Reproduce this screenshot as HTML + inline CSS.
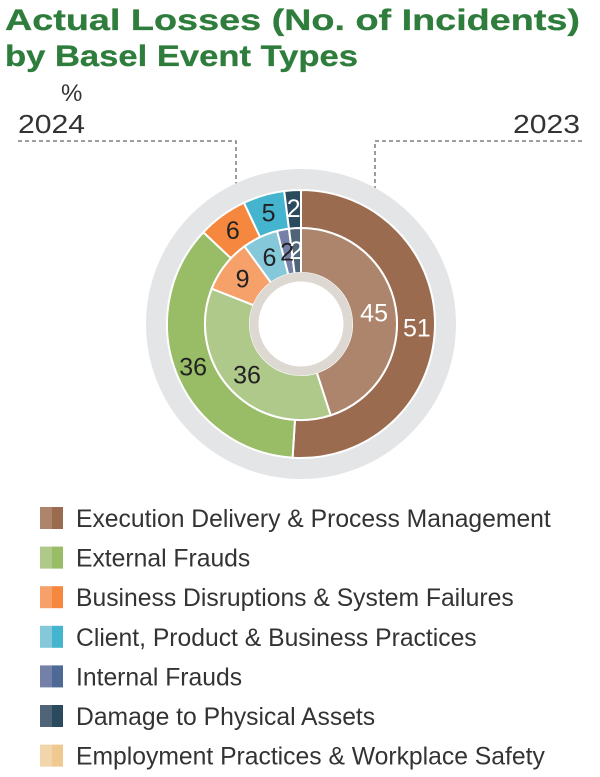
<!DOCTYPE html>
<html><head><meta charset="utf-8"><style>
html,body{margin:0;padding:0;background:#fff;}
svg{display:block;font-family:"Liberation Sans",sans-serif;}
</style></head><body>
<svg id="chart" width="600" height="777" viewBox="0 0 600 777" xmlns="http://www.w3.org/2000/svg">
<text x="5" y="30" font-size="30" font-weight="bold" fill="#2f7d3c" textLength="575" lengthAdjust="spacingAndGlyphs" stroke="#2f7d3c" stroke-width="0.3">Actual Losses (No. of Incidents)</text>
<text x="5" y="66" font-size="30" font-weight="bold" fill="#2f7d3c" textLength="353" lengthAdjust="spacingAndGlyphs" stroke="#2f7d3c" stroke-width="0.3">by Basel Event Types</text>
<text x="61" y="101" font-size="24" fill="#333">%</text>
<text x="18" y="133" font-size="26" fill="#333" textLength="67" lengthAdjust="spacingAndGlyphs">2024</text>
<text x="513" y="133" font-size="26" fill="#333" textLength="67" lengthAdjust="spacingAndGlyphs">2023</text>
<polyline points="18,141 236,141 236,215" fill="none" stroke="#666" stroke-width="1.3" stroke-dasharray="4,3"/>
<polyline points="582,141 375,141 375,272" fill="none" stroke="#666" stroke-width="1.3" stroke-dasharray="4,3"/>
<circle cx="301" cy="324" r="144" fill="none" stroke="#e4e5e7" stroke-width="22"/>
<g id="rings"></g>
<circle cx="301" cy="324" r="47" fill="none" stroke="#ddd8d2" stroke-width="9"/>
<g id="labels"></g>
<g id="legend"></g>
</svg>
<script>
const categories=["Execution Delivery & Process Management","External Frauds","Business Disruptions & System Failures","Client, Product & Business Practices","Internal Frauds","Damage to Physical Assets","Employment Practices & Workplace Safety"];
const values2024=[51,36,6,5,0,2,0];
const values2023=[45,36,9,6,2,2,0];
const outerColors=["#9b6b4f","#98bd66","#f5873e","#45b5cf","#4e6996","#2a4a5e","#efc98f"];
const innerColors=["#ad856c","#afc98a","#f6a06a","#84c8da","#7580a8","#4f6577","#f2d6ab"];
const labelColors=["#fff","#222","#222","#222","#222","#fff","#222"];
const NS="http://www.w3.org/2000/svg";
const cx=301,cy=324;
function pt(r,a){const t=a*Math.PI/180;return [cx+r*Math.sin(t),cy-r*Math.cos(t)];}
function arc(r0,r1,a0,a1){const big=(a1-a0)>180?1:0;const p1=pt(r1,a0),p2=pt(r1,a1),p3=pt(r0,a1),p4=pt(r0,a0);
return `M${p1[0]},${p1[1]}A${r1},${r1} 0 ${big} 1 ${p2[0]},${p2[1]}L${p3[0]},${p3[1]}A${r0},${r0} 0 ${big} 0 ${p4[0]},${p4[1]}Z`;}
const rings=document.getElementById('rings'),labels=document.getElementById('labels');
function drawRing(vals,colors,r0,r1,lr,year){
 const total=vals.reduce((a,b)=>a+b,0);let a=0;
 vals.forEach((v,i)=>{ if(v<=0)return; const a1=a+v/total*360;
  const p=document.createElementNS(NS,'path');
  p.setAttribute('d',arc(r0,r1,a,a1));p.setAttribute('fill',colors[i]);p.setAttribute('stroke','#fff');p.setAttribute('stroke-width','2');
  
  
  rings.appendChild(p);
  const m=(a+a1)/2;const q=pt(lr,m);
  const t=document.createElementNS(NS,'text');
  t.setAttribute('x',q[0]);t.setAttribute('y',q[1]+9);t.setAttribute('text-anchor','middle');t.setAttribute('font-size','25');t.setAttribute('fill',labelColors[i]);
  t.textContent=v;
  
  
  labels.appendChild(t);
  a=a1;});
}
drawRing(values2024,outerColors,96,134,116,'2024');
drawRing(values2023,innerColors,51,96,74,'2023');
const lg=document.getElementById('legend');
categories.forEach((c,i)=>{const y=518+i*39.6;
 const g=document.createElementNS(NS,'g');
 
 
 const r1=document.createElementNS(NS,'rect');r1.setAttribute('x',40);r1.setAttribute('y',y-11);r1.setAttribute('width',12);r1.setAttribute('height',22);r1.setAttribute('fill',innerColors[i]);
 const r2=document.createElementNS(NS,'rect');r2.setAttribute('x',52);r2.setAttribute('y',y-11);r2.setAttribute('width',11);r2.setAttribute('height',22);r2.setAttribute('fill',outerColors[i]);
 const t=document.createElementNS(NS,'text');t.setAttribute('x',76);t.setAttribute('y',y+9);t.setAttribute('font-size','24.7');t.setAttribute('fill','#333');
 t.textContent=c;
 g.appendChild(r1);g.appendChild(r2);g.appendChild(t);lg.appendChild(g);});
</script>
</body></html>
